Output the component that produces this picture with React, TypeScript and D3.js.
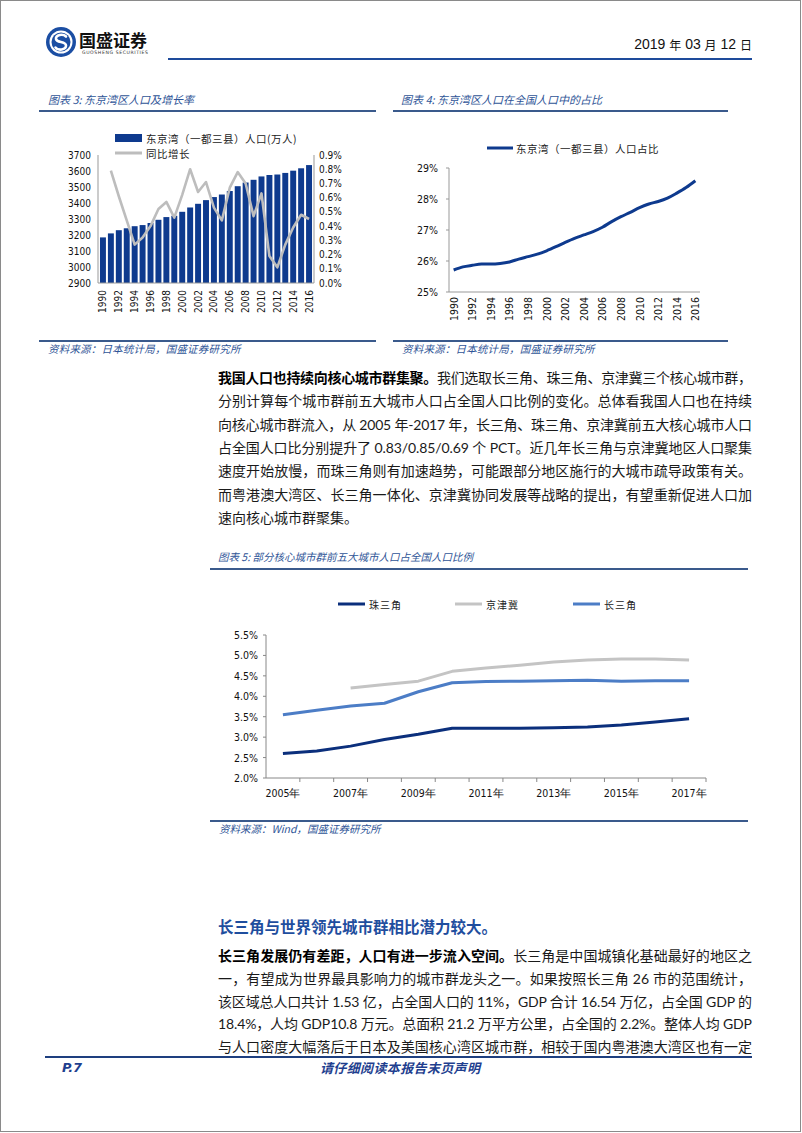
import React from 'react';
import * as d3 from 'd3';

// ---------- DATA ----------
const bayYears = [1990, 1991, 1992, 1993, 1994, 1995, 1996, 1997, 1998, 1999, 2000, 2001, 2002, 2003, 2004, 2005, 2006, 2007, 2008, 2009, 2010, 2011, 2012, 2013, 2014, 2015, 2016];
const bayPopulation = [3185, 3210, 3230, 3242, 3255, 3262, 3275, 3295, 3312, 3320, 3345, 3372, 3395, 3418, 3437, 3453, 3475, 3505, 3528, 3545, 3566, 3575, 3578, 3588, 3602, 3617, 3637];
const growthYears = [1991, 1992, 1993, 1994, 1995, 1996, 1997, 1998, 1999, 2000, 2001, 2002, 2003, 2004, 2005, 2006, 2007, 2008, 2009, 2010, 2011, 2012, 2013, 2014, 2015, 2016];
const growthRate = [0.79, 0.61, 0.44, 0.27, 0.32, 0.40, 0.52, 0.57, 0.46, 0.62, 0.80, 0.64, 0.71, 0.53, 0.44, 0.67, 0.78, 0.70, 0.47, 0.63, 0.19, 0.11, 0.27, 0.39, 0.48, 0.45];
const bayShare = [25.71, 25.81, 25.86, 25.90, 25.90, 25.92, 25.97, 26.06, 26.14, 26.22, 26.33, 26.46, 26.60, 26.73, 26.84, 26.95, 27.09, 27.27, 27.43, 27.57, 27.72, 27.84, 27.92, 28.03, 28.19, 28.37, 28.59];
const popTicks = [2900, 3000, 3100, 3200, 3300, 3400, 3500, 3600, 3700];
const growthTicks = [0, 0.1, 0.2, 0.3, 0.4, 0.5, 0.6, 0.7, 0.8, 0.9];
const shareTicks = [25, 26, 27, 28, 29];

const clusterYears = [2005, 2006, 2007, 2008, 2009, 2010, 2011, 2012, 2013, 2014, 2015, 2016, 2017];
const prdShare = [2.60, 2.66, 2.78, 2.94, 3.07, 3.22, 3.22, 3.22, 3.23, 3.25, 3.30, 3.37, 3.45];
const jjjShare = [null, null, 4.20, 4.29, 4.37, 4.61, 4.69, 4.76, 4.84, 4.89, 4.91, 4.91, 4.89];
const yrdShare = [3.55, 3.66, 3.76, 3.83, 4.11, 4.33, 4.36, 4.37, 4.38, 4.39, 4.37, 4.38, 4.38];
const clusterTicks = [2.0, 2.5, 3.0, 3.5, 4.0, 4.5, 5.0, 5.5];
const clusterLabels = ['2005年', '2007年', '2009年', '2011年', '2013年', '2015年', '2017年'];

const para1 = [
  { b: '我国人口也持续向核心城市群集聚。', t: '我们选取长三角、珠三角、京津冀三个核心城市群，' },
  { b: '', t: '分别计算每个城市群前五大城市人口占全国人口比例的变化。总体看我国人口也在持续' },
  { b: '', t: '向核心城市群流入，从 2005 年-2017 年，长三角、珠三角、京津冀前五大核心城市人口' },
  { b: '', t: '占全国人口比分别提升了 0.83/0.85/0.69 个 PCT。近几年长三角与京津冀地区人口聚集' },
  { b: '', t: '速度开始放慢，而珠三角则有加速趋势，可能跟部分地区施行的大城市疏导政策有关。' },
  { b: '', t: '而粤港澳大湾区、长三角一体化、京津冀协同发展等战略的提出，有望重新促进人口加' },
  { b: '', t: '速向核心城市群聚集。' },
];
const para2 = [
  { b: '长三角发展仍有差距，人口有进一步流入空间。', t: '长三角是中国城镇化基础最好的地区之' },
  { b: '', t: '一，有望成为世界最具影响力的城市群龙头之一。如果按照长三角 26 市的范围统计，' },
  { b: '', t: '该区域总人口共计 1.53 亿，占全国人口的 11%，GDP 合计 16.54 万亿，占全国 GDP 的' },
  { b: '', t: '18.4%，人均 GDP10.8 万元。总面积 21.2 万平方公里，占全国的 2.2%。整体人均 GDP' },
  { b: '', t: '与人口密度大幅落后于日本及美国核心湾区城市群，相较于国内粤港澳大湾区也有一定' },
];

// ---------- STYLE ----------
const CJK = "'Noto Sans CJK SC', sans-serif";
const BODY = "Lato, 'Noto Sans CJK SC', sans-serif";
const NUM = "'DejaVu Sans Condensed', 'DejaVu Sans', sans-serif";
const TITLE_BLUE = '#2F5597';
const LINE_BLUE = '#3A5A8C';
const NAVY = '#0E3A8E';

function Para({ lines, x, y0, dy, width, lastFree }: any) {
  return (
    <g fontFamily={BODY} fontSize={14} fill="#1a1a1a">
      {lines.map((l: any, i: number) => {
        const free = lastFree && i === lines.length - 1;
        return (
          <text key={i} x={x} y={y0 + i * dy} dominantBaseline="central"
            {...(free ? {} : { textLength: width, lengthAdjust: 'spacing' })}>
            {l.b ? <tspan fontWeight={700} fill="#000">{l.b}</tspan> : null}
            <tspan>{l.t}</tspan>
          </text>
        );
      })}
    </g>
  );
}

function Chart3() {
  const x = d3.scaleBand<number>().domain(bayYears).range([98, 314]).padding(0.25);
  const yL = d3.scaleLinear().domain([2900, 3700]).range([283, 155]);
  const yR = d3.scaleLinear().domain([0, 0.9]).range([283, 155]);
  const cx = (yr: number) => (x(yr) as number) + x.bandwidth() / 2;
  const line = d3.line<number>().x((_, i) => cx(growthYears[i])).y((d) => yR(d));
  return (
    <g>
      <text x={48} y={99} dominantBaseline="central" fontFamily={CJK} fontSize={11} fontStyle="italic" fill={TITLE_BLUE}>图表 3:  东京湾区人口及增长率</text>
      <line x1={39} x2={376} y1={111} y2={111} stroke={LINE_BLUE} strokeWidth={2} />
      {bayPopulation.map((v, i) => (
        <rect key={i} x={x(bayYears[i])} y={yL(v)} width={x.bandwidth()} height={283 - yL(v)} fill={NAVY} />
      ))}
      <path d={line(growthRate) || ''} fill="none" stroke="#BDBDBD" strokeWidth={2.6} strokeLinejoin="round" />
      <line x1={98} x2={98} y1={155} y2={283} stroke="#999" />
      <line x1={314} x2={314} y1={155} y2={283} stroke="#999" />
      <line x1={98} x2={314} y1={283} y2={283} stroke="#999" />
      <g fontFamily={NUM} fontSize={10} fill="#111">
        {popTicks.map((t) => (
          <text key={t} x={91} y={yL(t)} textAnchor="end" dominantBaseline="central">{t}</text>
        ))}
        {growthTicks.map((t) => (
          <text key={t} x={319} y={yR(t)} dominantBaseline="central">{t.toFixed(1)}%</text>
        ))}
        {bayYears.filter((y) => y % 2 === 0).map((yr) => (
          <text key={yr} transform={`translate(${cx(yr)},${290}) rotate(-90)`} textAnchor="end" dominantBaseline="central">{yr}</text>
        ))}
      </g>
      <rect x={115} y={134} width={27} height={8} fill={NAVY} />
      <line x1={115} x2={142} y1={153} y2={153} stroke="#BDBDBD" strokeWidth={3} />
      <g fontFamily={CJK} fontSize={10.5} fill="#222" letterSpacing={0.5}>
        <text x={146} y={138} dominantBaseline="central">东京湾（一都三县）人口(万人)</text>
        <text x={146} y={153} dominantBaseline="central">同比增长</text>
      </g>
      <line x1={39} x2={376} y1={341} y2={341} stroke={LINE_BLUE} strokeWidth={2} />
      <text x={48} y={348} dominantBaseline="central" fontFamily={CJK} fontSize={10.5} fontStyle="italic" fill={TITLE_BLUE} letterSpacing={0.2}>资料来源：日本统计局，国盛证券研究所</text>
    </g>
  );
}

function Chart4() {
  const x = d3.scaleBand<number>().domain(bayYears).range([449, 700]);
  const y = d3.scaleLinear().domain([25, 29]).range([292, 168]);
  const cx = (yr: number) => (x(yr) as number) + x.bandwidth() / 2;
  const line = d3.line<number>().x((_, i) => cx(bayYears[i])).y((d) => y(d)).curve(d3.curveMonotoneX);
  return (
    <g>
      <text x={401} y={99} dominantBaseline="central" fontFamily={CJK} fontSize={11} fontStyle="italic" fill={TITLE_BLUE}>图表 4:  东京湾区人口在全国人口中的占比</text>
      <line x1={393} x2={728} y1={111} y2={111} stroke={LINE_BLUE} strokeWidth={2} />
      <line x1={487} x2={513} y1={148} y2={148} stroke={NAVY} strokeWidth={3} />
      <text x={516} y={148} dominantBaseline="central" fontFamily={CJK} fontSize={10.5} fill="#222" letterSpacing={0.5}>东京湾（一都三县）人口占比</text>
      <line x1={449} x2={449} y1={168} y2={292} stroke="#999" />
      <line x1={449} x2={700} y1={292} y2={292} stroke="#999" />
      {shareTicks.map((t) => (
        <line key={t} x1={446} x2={449} y1={y(t)} y2={y(t)} stroke="#999" />
      ))}
      <path d={line(bayShare) || ''} fill="none" stroke={NAVY} strokeWidth={3} />
      <g fontFamily={NUM} fontSize={10.5} fill="#111">
        {shareTicks.map((t) => (
          <text key={t} x={438} y={y(t)} textAnchor="end" dominantBaseline="central">{t}%</text>
        ))}
        {bayYears.filter((v) => v % 2 === 0).map((yr) => (
          <text key={yr} transform={`translate(${cx(yr)},${297}) rotate(-90)`} textAnchor="end" dominantBaseline="central">{yr}</text>
        ))}
      </g>
      <line x1={393} x2={728} y1={341} y2={341} stroke={LINE_BLUE} strokeWidth={2} />
      <text x={402} y={348} dominantBaseline="central" fontFamily={CJK} fontSize={10.5} fontStyle="italic" fill={TITLE_BLUE} letterSpacing={0.2}>资料来源：日本统计局，国盛证券研究所</text>
    </g>
  );
}

function Chart5() {
  const x = d3.scaleBand<number>().domain(clusterYears).range([266, 706]);
  const y = d3.scaleLinear().domain([2, 5.5]).range([778, 635]);
  const cx = (yr: number) => (x(yr) as number) + x.bandwidth() / 2;
  const mk = (vals: (number | null)[]) =>
    d3.line<number | null>().defined((d) => d !== null).x((_, i) => cx(clusterYears[i])).y((d) => y(d as number))(vals) || '';
  const series = [
    { name: '珠三角', vals: prdShare, color: '#0B2F7C', lx: 338 },
    { name: '京津冀', vals: jjjShare, color: '#C4C4C4', lx: 455 },
    { name: '长三角', vals: yrdShare, color: '#4C7DC6', lx: 573 },
  ];
  return (
    <g>
      <text x={218} y={556} dominantBaseline="central" fontFamily={CJK} fontSize={10.5} fontStyle="italic" fill={TITLE_BLUE}>图表 5:  部分核心城市群前五大城市人口占全国人口比例</text>
      <line x1={210} x2={748} y1={569} y2={569} stroke={LINE_BLUE} strokeWidth={2} />
      {series.map((s) => (
        <g key={s.name}>
          <line x1={s.lx} x2={s.lx + 27} y1={604} y2={604} stroke={s.color} strokeWidth={3} />
          <text x={s.lx + 31} y={604} dominantBaseline="central" fontFamily={CJK} fontSize={10} fill="#222" letterSpacing={1}>{s.name}</text>
        </g>
      ))}
      <line x1={266} x2={266} y1={635} y2={778} stroke="#888" />
      <line x1={266} x2={706} y1={778} y2={778} stroke="#888" />
      {clusterTicks.map((t) => (
        <line key={t} x1={263} x2={266} y1={y(t)} y2={y(t)} stroke="#888" />
      ))}
      {clusterYears.map((yr) => {
        const bx = (x(yr) as number) + x.bandwidth();
        return <line key={yr} x1={bx} x2={bx} y1={778} y2={782} stroke="#888" />;
      })}
      {series.map((s) => (
        <path key={s.name} d={mk(s.vals)} fill="none" stroke={s.color} strokeWidth={3} strokeLinejoin="round" />
      ))}
      <g fontFamily={NUM} fontSize={10.5} fill="#111">
        {clusterTicks.map((t) => (
          <text key={t} x={258} y={y(t)} textAnchor="end" dominantBaseline="central">{t.toFixed(1)}%</text>
        ))}
        {clusterLabels.map((lab, i) => (
          <text key={lab} x={cx(clusterYears[i * 2])} y={793} textAnchor="middle" dominantBaseline="central">{lab}</text>
        ))}
      </g>
      <line x1={210} x2={748} y1={821} y2={821} stroke={LINE_BLUE} strokeWidth={2} />
      <text x={219} y={828} dominantBaseline="central" fontFamily={CJK} fontSize={10.5} fontStyle="italic" fill={TITLE_BLUE}>资料来源：Wind，国盛证券研究所</text>
    </g>
  );
}

export default function App() {
  return (
    <svg width={802} height={1133} style={{ position: 'absolute', left: 0, top: 0, background: '#fff' }}>
      <rect x={0.5} y={0.5} width={800} height={1131} fill="#fff" stroke="#8a8a8a" />
      {/* header */}
      <g>
        <circle cx={61} cy={42} r={15} fill="#1B4EA3" />
        <circle cx={61} cy={42} r={11.5} fill="#fff" />
        <circle cx={61} cy={42} r={9.5} fill="#1B4EA3" />
        <path d="M 66 36.5 C 63 33.5, 55.5 34.5, 56 39 C 56.5 43, 66 41, 66 45.5 C 66 50, 58 51, 55.5 47.5" fill="none" stroke="#fff" strokeWidth={2.6} strokeLinecap="round" />
        <text x={79} y={39} dominantBaseline="central" fontFamily={CJK} fontSize={17} fontWeight={700} fill="#111">国盛证券</text>
        <text x={82} y={52.5} dominantBaseline="central" fontFamily="'DejaVu Sans', sans-serif" fontSize={4.6} fill="#333" letterSpacing={0.6}>GUOSHENG SECURITIES</text>
        <text x={752} y={44} textAnchor="end" dominantBaseline="central" fontFamily="'Liberation Sans Narrow', 'Liberation Sans', sans-serif" fontSize={14} fill="#111">
          2019 <tspan fontFamily={CJK} fontSize={12}>年</tspan> 03 <tspan fontFamily={CJK} fontSize={12}>月</tspan> 12 <tspan fontFamily={CJK} fontSize={12}>日</tspan>
        </text>
        <line x1={168} x2={752} y1={59} y2={59} stroke="#1E4B9B" strokeWidth={2} />
      </g>
      <Chart3 />
      <Chart4 />
      <Para lines={para1} x={218} y0={377} dy={23.3} width={534} lastFree={true} />
      <Chart5 />
      <text x={218} y={926} dominantBaseline="central" fontFamily={CJK} fontSize={15.5} fontWeight={700} fill="#1F4E9E">长三角与世界领先城市群相比潜力较大。</text>
      <Para lines={para2} x={218} y0={955} dy={22.8} width={534} lastFree={false} />
      {/* footer */}
      <line x1={45} x2={752} y1={1057} y2={1057} stroke="#1E3F7F" strokeWidth={2} />
      <text x={62} y={1067} dominantBaseline="central" fontFamily="'DejaVu Sans', sans-serif" fontSize={13} fontWeight={700} fontStyle="italic" fill="#1F3F8F">P.7</text>
      <text x={320} y={1067} dominantBaseline="central" fontFamily={CJK} fontSize={13} fontWeight={700} fontStyle="italic" fill="#1F3F8F" textLength={160} lengthAdjust="spacing">请仔细阅读本报告末页声明</text>
    </svg>
  );
}
